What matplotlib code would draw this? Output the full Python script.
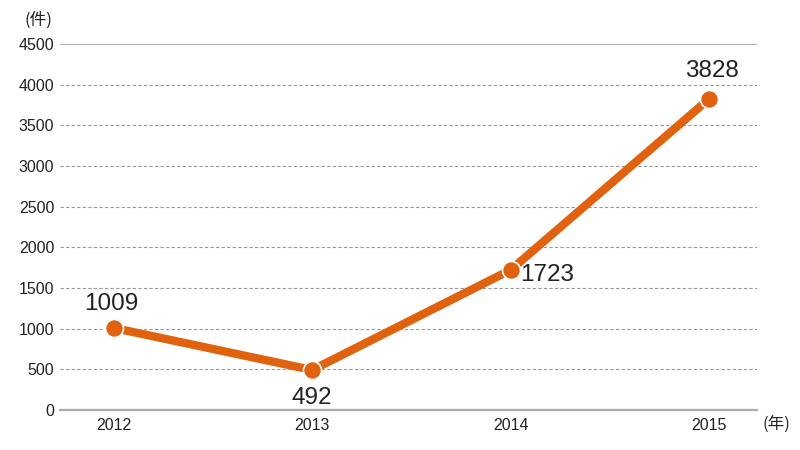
import matplotlib
matplotlib.use("Agg")
import matplotlib.pyplot as plt

years = ["2012", "2013", "2014", "2015"]
values = [1009, 492, 1723, 3828]
yticks = [0, 500, 1000, 1500, 2000, 2500, 3000, 3500, 4000, 4500]

plt.rcParams['font.family'] = ['Liberation Sans', 'Noto Sans CJK JP', 'DejaVu Sans']

fig = plt.figure(figsize=(8, 4.5), dpi=100)
ax = fig.add_axes([60/800, 1-410/450, (757-60)/800, (410-44)/450])

x = list(range(len(years)))
color = '#E0610E'
ax.plot(x, values, color=color, lw=6, solid_capstyle='round', zorder=3)
ax.plot(x, values, 'o', color=color, ms=13, mec='white', mew=1.2, zorder=4)

ax.set_xlim(-0.27, 3.24)
ax.set_ylim(0, 4500)
ax.set_yticks(yticks)
ax.set_xticks(x)
ax.set_xticklabels(years)
for v in yticks[1:-1]:
    ax.axhline(v, color='#999999', lw=0.8, ls=(0, (3, 2)), zorder=1)
ax.axhline(4500, color='#aaaaaa', lw=1.3, zorder=1)
ax.axhline(0, color='#aaaaaa', lw=1.6, zorder=2, clip_on=False)
for s in ax.spines.values():
    s.set_visible(False)
ax.tick_params(length=0, labelsize=11.5, colors='#222222')
ax.tick_params(axis='y', pad=4)
ax.tick_params(axis='x', pad=6)

offsets = [('center', 'bottom', -2, 9),
           ('center', 'top', 0, -12),
           ('left', 'center', 7, -4),
           ('center', 'bottom', 2, 12)]
for xi, v, (ha, va, ox, oy) in zip(x, values, offsets):
    ax.annotate(str(v), (xi, v), xytext=(ox, oy), textcoords='offset points',
                ha=ha, va=va, fontsize=17.5, color='#222222', zorder=5)

cjk = ['Noto Sans CJK JP', 'DejaVu Sans']
fig.text(24/800, 1-20/450, '(件)', fontsize=12, color='#222222', va='center', ha='left',
         family=cjk)
fig.text(762/800, 1-424/450, '(年)', fontsize=12, color='#222222', va='center', ha='left',
         family=cjk)

fig.savefig('out.png', dpi=100)
